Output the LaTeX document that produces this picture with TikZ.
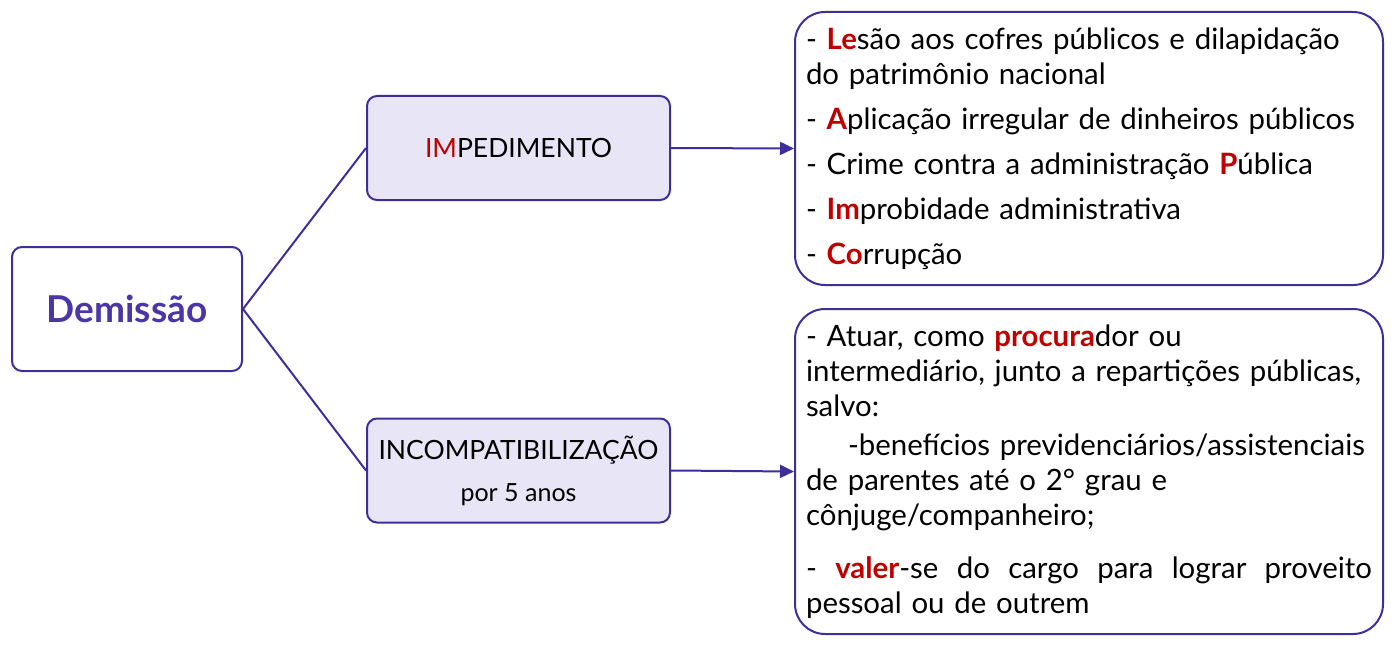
\documentclass[tikz,border=0pt]{standalone}
\usepackage{fontspec}
\setmainfont{Lato}
\usetikzlibrary{arrows.meta}
\definecolor{roxo}{HTML}{3E2E9A}
\definecolor{roxotxt}{HTML}{4A36A6}
\definecolor{lilas}{HTML}{E8E6F6}
\definecolor{verm}{HTML}{C00000}
\newcommand{\rd}[1]{\textcolor{verm}{\bfseries #1}}

\begin{document}
\begin{tikzpicture}[x=1pt, y=-1pt,
	caixa/.style={draw=roxo, line width=2pt, rounded corners=10pt, fill=lilas, minimum width=303pt, minimum height=104pt, align=center, inner sep=0pt},
	lista/.style={draw=roxo, line width=2pt, rounded corners=30pt, fill=white, text width=566pt, inner xsep=11pt, inner ysep=0pt, align=left, font=\fontsize{29.4}{35}\selectfont},
	liga/.style={roxo, line width=2pt},
	seta/.style={liga, -{Triangle[length=14pt,width=13pt]}}]
	\useasboundingbox (0,0) rectangle (1396,647);
	% raiz
	\node[caixa, fill=white, minimum width=230pt, minimum height=124pt, text=roxotxt, font=\fontsize{37}{42}\selectfont\bfseries] (dem) at (127,309) {Demiss\~ao};
	% ramos
	\node[caixa, font=\fontsize{26.5}{30}\selectfont] (imp) at (518.5,148) {\textcolor{verm}{IM}PEDIMENTO};
	\node[caixa, font=\fontsize{26.5}{30}\selectfont] (inc) at (518.5,470.5) {INCOMPATIBILIZA\c{C}\~AO\\[12pt]{\fontsize{25}{28}\selectfont por 5 anos}};
	% listas
	\node[lista, minimum height=273pt] (lst1) at (1089,148.5) {%
		- \rd{Le}são aos cofres públicos e dilapidação\\
		do patrimônio nacional\\[10pt]
		- \rd{A}plicação irregular de dinheiros públicos\\[10pt]
		- Crime contra a administração \rd{P}ública\\[10pt]
		- \rd{Im}probidade administrativa\\[10pt]
		- \rd{Co}rrupção};
	\node[lista, minimum height=325pt] (lst2) at (1089,471.5) {%
		- Atuar, como \rd{procura}dor ou\\
		intermediário, junto a repartições públicas,\\
		salvo:\\[4pt]
		\hspace*{42pt}-benefícios previdenciários/assistenciais\\
		de parentes até o 2° grau e\\
		cônjuge/companheiro;\\[18pt]
		\makebox[566pt][l]{-\hfill\rd{valer}-se\hfill do\hfill cargo\hfill para\hfill lograr\hfill proveito}\\
		pessoal ou de outrem};
	% ligacoes
	\draw[liga] (dem.east) -- (imp.west);
	\draw[liga] (dem.east) -- (inc.west);
	\draw[seta] (imp.east) -- (lst1.west);
	\draw[seta] (inc.east) -- (lst2.west);
\end{tikzpicture}
\end{document}
